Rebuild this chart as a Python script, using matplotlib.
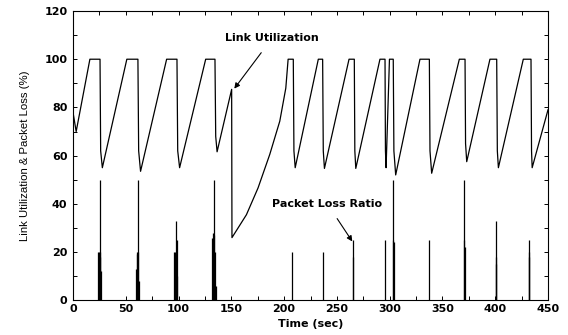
import matplotlib
matplotlib.use("Agg")
import matplotlib.pyplot as plt
from matplotlib.ticker import MultipleLocator

# Link utilization (%) vs time (sec)
util_t = [0, 3, 16, 25.6, 26.2, 27.8,
          51, 61.5, 62.2, 64,
          88.7, 98.5, 99.2, 101,
          125.7, 134.5, 135.2, 136.5,
          150.3, 150.6,
          164.3, 175.3, 186.4, 195.9, 201.6, 203.8, 208.7, 209.3, 210.5,
          232.4, 236.5, 237.1, 238.2,
          261.5, 266.5, 267.0, 267.9,
          290.8, 295.6, 296.0, 296.6,
          299.8, 303.4, 304.0, 305.7,
          328.7, 337.6, 338.2, 339.8,
          366, 371.4, 371.9, 373,
          395, 401.4, 402, 403,
          426.6, 433.9, 434.4, 435,
          450]
util_v = [78, 70, 100, 100, 62, 55,
          100, 100, 62, 53.5,
          100, 100, 62, 55,
          100, 100, 68, 61.6,
          87.5, 26,
          35.5, 46.6, 60.5, 74.3, 88, 100, 100, 62, 55,
          100, 100, 62, 54.7,
          100, 100, 62, 54.7,
          100, 100, 62, 55,
          100, 100, 62, 52,
          100, 100, 62, 52.7,
          100, 100, 65, 57.5,
          100, 100, 62, 55,
          100, 100, 62, 55,
          79]

# Packet loss ratio (%) spikes
loss_t = [23.8, 24.3, 24.8, 25.3, 25.6, 26.0, 26.4,
          59.7, 60.4, 60.9, 61.4, 61.6, 62.1,
          96.0, 96.5, 97.0, 97.6, 98.2, 98.5,
          132.0, 132.6, 133.2, 133.6, 134.1, 135.2,
          207.8,
          236.5,
          265.4, 265.7,
          295.2,
          303.1, 303.5, 303.8,
          337.6,
          370.4, 370.8, 371.1,
          400.5, 400.8, 401.1,
          431.7, 432.0, 432.3]
loss_v = [20, 19, 20, 20, 50, 18, 12,
          13, 20, 19, 20, 50, 8,
          20, 19, 20, 33, 25, 10,
          26, 28, 27, 50, 20, 6,
          20,
          20,
          25, 18,
          25,
          25, 50, 24,
          25,
          25, 50, 22,
          18, 33, 15,
          20, 25, 18]

xticks = [0, 50, 100, 150, 200, 250, 300, 350, 400, 450]
yticks = [0, 20, 40, 60, 80, 100, 120]

fig = plt.figure(figsize=(5.68, 3.35), dpi=100)
ax = fig.add_axes([73/568, 1-300.3/335, 475/568, (300.3-11)/335])

ax.plot(util_t, util_v, color='black', lw=0.9)
ax.vlines(loss_t, 0, loss_v, color='black', lw=0.9)

ax.set_xlim(0, 450)
ax.set_ylim(0, 120)
ax.set_xticks(xticks)
ax.set_yticks(yticks)
ax.xaxis.set_minor_locator(MultipleLocator(25))
ax.yaxis.set_minor_locator(MultipleLocator(10))
ax.tick_params(which='both', direction='in', top=True, right=True,
               length=3, width=0.7)
ax.tick_params(axis='x', pad=3)
ax.tick_params(axis='y', pad=4)
for lab in ax.get_xticklabels() + ax.get_yticklabels():
    lab.set_family('DejaVu Sans')
    lab.set_fontweight('bold')
    lab.set_fontsize(8)
for s in ax.spines.values():
    s.set_linewidth(0.8)

ax.set_xlabel('Time (sec)', family='DejaVu Sans', fontweight='bold',
              fontsize=8, labelpad=3.5)
ax.set_ylabel('Link Utilization & Packet Loss (%)', family='Liberation Sans',
              fontsize=8.2, labelpad=10)

arrow = dict(arrowstyle='-|>', color='black', lw=0.8, mutation_scale=8,
             shrinkA=6, shrinkB=0)
ax.annotate('Link Utilization', xy=(152.8, 87.8), xytext=(188.6, 108.7),
            ha='center', va='center', family='DejaVu Sans',
            fontweight='bold', fontsize=8, arrowprops=arrow)
ax.annotate('Packet Loss Ratio', xy=(264.6, 24.4), xytext=(241, 40),
            ha='center', va='center', family='DejaVu Sans',
            fontweight='bold', fontsize=8, arrowprops=arrow)

fig.savefig('out.png', dpi=100)
